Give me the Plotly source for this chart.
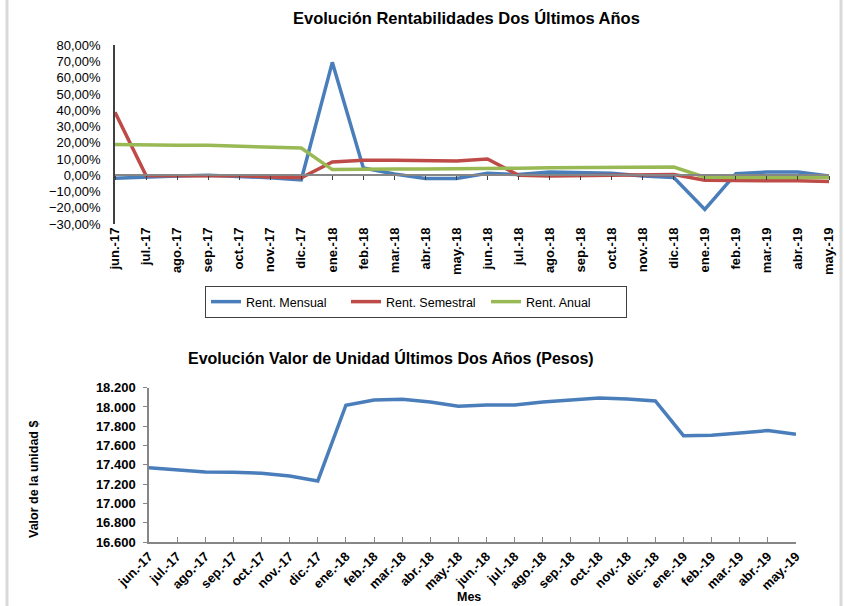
import plotly.graph_objects as go

meses = ["jun.-17", "jul.-17", "ago.-17", "sep.-17", "oct.-17", "nov.-17", "dic.-17",
         "ene.-18", "feb.-18", "mar.-18", "abr.-18", "may.-18", "jun.-18", "jul.-18",
         "ago.-18", "sep.-18", "oct.-18", "nov.-18", "dic.-18", "ene.-19", "feb.-19",
         "mar.-19", "abr.-19", "may.-19"]

rent_mensual = [-1.8, -1.0, -0.5, 0.0, -0.5, -1.5, -2.8, 69.5, 4.5, 0.8, -2.0, -2.0,
                1.2, 0.4, 2.0, 1.6, 1.2, -0.4, -1.4, -21.0, 1.0, 2.0, 2.0, -0.4]
rent_semestral = [38.8, -0.2, -0.3, -0.2, -0.3, -1.0, -1.5, 8.2, 9.2, 9.2, 8.8, 8.8,
                  10.0, 0.0, -0.4, -0.2, 0.5, 0.6, 0.4, -3.0, -3.4, -3.4, -3.4, -3.8]
rent_anual = [19.0, 18.6, 18.4, 18.4, 18.0, 17.2, 16.8, 3.5, 3.9, 3.9, 3.9, 3.9,
              4.1, 4.3, 4.7, 4.9, 5.1, 5.1, 5.1, -1.2, -1.4, -1.4, -1.4, -1.4]

valor_unidad = [17371, 17347, 17326, 17322, 17313, 17285, 17233, 18018, 18073, 18080,
                18052, 18007, 18021, 18021, 18052, 18073, 18093, 18083, 18062, 17703,
                17707, 17731, 17755, 17717]

W, H = 844, 606
BLUE, RED, GREEN = "#4A7EBB", "#BE4B48", "#98B954"
AXIS = "#868686"
FONT = "Liberation Sans, Arial, sans-serif"

def px_x(p):
    return p / W

def px_y(p):
    return (H - p) / H

top_dom_y = [px_y(224), px_y(45.3)]
top_dom_x = [px_x(115), px_x(829)]
bot_dom_y = [px_y(542), px_y(387.7)]
bot_dom_x = [px_x(149), px_x(796)]
top_range = [-30, 80]
zero_pos = top_dom_y[0] + (0 - top_range[0]) / (top_range[1] - top_range[0]) * (top_dom_y[1] - top_dom_y[0])

fig = go.Figure()

lw = 3.5
# dummy trace for the zero-line axis with ticks
fig.add_trace(go.Scatter(x=meses, y=[None] * len(meses), mode="lines", showlegend=False,
                         hoverinfo="skip", xaxis="x3", yaxis="y"))
fig.add_trace(go.Scatter(x=meses, y=rent_mensual, name="Rent. Mensual", mode="lines",
                         line=dict(color=BLUE, width=lw), xaxis="x", yaxis="y"))
fig.add_trace(go.Scatter(x=meses, y=rent_semestral, name="Rent. Semestral", mode="lines",
                         line=dict(color=RED, width=lw), xaxis="x", yaxis="y"))
fig.add_trace(go.Scatter(x=meses, y=rent_anual, name="Rent. Anual", mode="lines",
                         line=dict(color=GREEN, width=lw), xaxis="x", yaxis="y"))
fig.add_trace(go.Scatter(x=meses, y=valor_unidad, mode="lines", showlegend=False,
                         line=dict(color=BLUE, width=lw), xaxis="x2", yaxis="y2"))

cat_range = [0, len(meses) - 1]

fig.update_layout(
    width=W, height=H,
    autosize=False,
    margin=dict(l=0, r=0, t=0, b=0, pad=0, autoexpand=False),
    paper_bgcolor="white", plot_bgcolor="white",
    separators=",.",
    font=dict(family=FONT, size=13, color="black"),
    showlegend=True,
    legend=dict(orientation="h", x=px_x(416), xanchor="center", y=px_y(286), yanchor="top",
                bordercolor="#404040", borderwidth=1, font=dict(size=12.5),
                itemwidth=30, tracegroupgap=0, entrywidth=95, entrywidthmode="pixels"),
    xaxis=dict(domain=top_dom_x, anchor="y", type="category", categoryorder="array",
               categoryarray=meses, range=cat_range, showline=False, showgrid=False,
               zeroline=False, ticks="", tickangle=-90, automargin=False,
               tickfont=dict(size=13, family=FONT, weight="bold")),
    xaxis3=dict(domain=top_dom_x, anchor="free", overlaying="x", position=zero_pos,
                type="category", categoryorder="array", categoryarray=meses,
                range=cat_range, showline=True, linecolor=AXIS, linewidth=2,
                ticks="outside", ticklen=4, tickcolor="#404040", tickwidth=1,
                showticklabels=False, showgrid=False, zeroline=False, side="bottom",
                automargin=False),
    yaxis=dict(domain=top_dom_y, anchor="x", range=top_range, dtick=10,
               tickformat=".2f", ticksuffix="%", showline=True, linecolor="#404040",
               linewidth=1.5, showgrid=False, zeroline=False, ticks="", automargin=False,
               ticklabelstandoff=10, tickfont=dict(size=13)),
    xaxis2=dict(domain=bot_dom_x, anchor="y2", type="category", categoryorder="array",
                categoryarray=meses, range=cat_range, showline=True, linecolor=AXIS,
                linewidth=1.5, ticks="inside", ticklen=5, tickcolor=AXIS, showgrid=False,
                zeroline=False, tickangle=-45, automargin=False,
                tickfont=dict(size=13, family=FONT, weight="bold")),
    yaxis2=dict(domain=bot_dom_y, anchor="x2", range=[16600, 18200], dtick=200,
                tickformat=",d", showline=True, linecolor=AXIS, linewidth=1.5,
                ticks="outside", ticklen=4, tickcolor=AXIS, showgrid=False, zeroline=False,
                automargin=False, ticklabelstandoff=5,
                tickfont=dict(size=13, family=FONT, weight="bold")),
)

annotations = [
    dict(text="<b>Evolución Rentabilidades Dos Últimos Años</b>", x=px_x(466), y=px_y(18),
         xref="paper", yref="paper", showarrow=False, font=dict(size=16.5),
         xanchor="center", yanchor="middle"),
    dict(text="<b>Evolución Valor de Unidad Últimos Dos Años (Pesos)</b>", x=px_x(391),
         y=px_y(358), xref="paper", yref="paper", showarrow=False, font=dict(size=16),
         xanchor="center", yanchor="middle"),
    dict(text="<b>Valor de la unidad $</b>", x=px_x(34), y=px_y(480), xref="paper",
         yref="paper", showarrow=False, textangle=-90, font=dict(size=12.5),
         xanchor="center", yanchor="middle"),
    dict(text="<b>Mes</b>", x=px_x(469), y=px_y(597), xref="paper", yref="paper",
         showarrow=False, font=dict(size=12.5), xanchor="center", yanchor="middle"),
]
fig.update_layout(annotations=annotations)

fig.update_layout(shapes=[
    dict(type="line", xref="paper", yref="paper", x0=px_x(7), x1=px_x(7), y0=0, y1=1,
         line=dict(color="#D9D9D9", width=3)),
    dict(type="line", xref="paper", yref="paper", x0=px_x(841), x1=px_x(841), y0=0, y1=1,
         line=dict(color="#D9D9D9", width=3)),
])

fig.write_html("out.html", config={"responsive": False, "displayModeBar": False},
               post_script="document.body.style.margin='0';document.body.style.padding='0';"
                           "document.body.style.overflow='hidden';")
